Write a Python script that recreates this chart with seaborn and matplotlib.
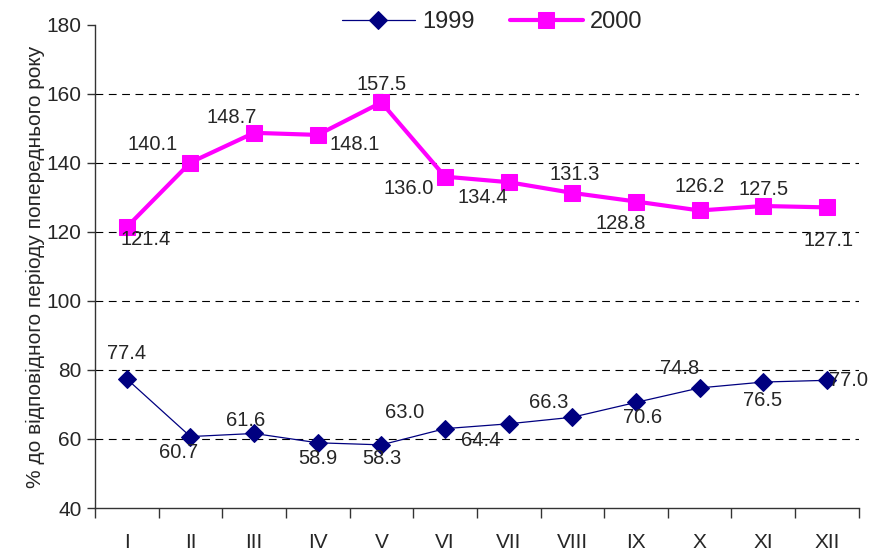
import pandas as pd
import matplotlib.pyplot as plt
import seaborn as sns

months = ['I', 'II', 'III', 'IV', 'V', 'VI', 'VII', 'VIII', 'IX', 'X', 'XI', 'XII']
y1999 = [77.4, 60.7, 61.6, 58.9, 58.3, 63.0, 64.4, 66.3, 70.6, 74.8, 76.5, 77.0]
y2000 = [121.4, 140.1, 148.7, 148.1, 157.5, 136.0, 134.4, 131.3, 128.8, 126.2, 127.5, 127.1]

# label offsets in pixels (dx, dy)
off1999 = [(0, 25), (-12, -16), (-8, 13), (0, -16), (0, -14), (-40, 16),
           (-28, -17), (-24, 15), (7, -15), (-20, 19), (-1, -18), (22, 0)]
off2000 = [(19, -12), (-38, 18), (-22, 15), (37, -10), (0, 18), (-36, -12),
           (-26, -15), (2, 18), (-15, -22), (0, 24), (0, 17), (2, -33)]

df = pd.DataFrame({'x': range(12), 'y1999': y1999, 'y2000': y2000})

sns.set_style('white')
plt.rcParams['font.family'] = ['Liberation Sans', 'DejaVu Sans']

fig = plt.figure(figsize=(8.71, 5.51), dpi=100)
ax = fig.add_axes([0.109, 0.078, 0.877, 0.877])

sns.lineplot(data=df, x='x', y='y1999', ax=ax, color='#000080', lw=0.9,
             marker='D', markersize=9, markeredgecolor='#000080', label='1999')
sns.lineplot(data=df, x='x', y='y2000', ax=ax, color='#FF00FF', lw=3,
             marker='s', markersize=11, markeredgecolor='#FF00FF', label='2000')

for i in range(12):
    ax.annotate(f'{y1999[i]:.1f}', (i, y1999[i]), xytext=off1999[i],
                textcoords='offset pixels', ha='center', va='center', fontsize=14.5)
    ax.annotate(f'{y2000[i]:.1f}', (i, y2000[i]), xytext=off2000[i],
                textcoords='offset pixels', ha='center', va='center', fontsize=14.5)

ax.set_xlim(-0.5, 11.5)
ax.set_ylim(40, 180)
ax.set_yticks(range(40, 181, 20))
for g in range(60, 161, 20):
    ax.axhline(g, color='black', lw=0.8, ls=(0, (7, 5)), zorder=0)

ax.set_xticks([i - 0.5 for i in range(13)])
ax.set_xticklabels([])
ax.set_xticks(range(12), minor=True)
ax.set_xticklabels(months, minor=True, fontsize=15)
ax.tick_params(axis='x', which='major', direction='out', length=7, width=1, color='#333333', bottom=True)
ax.tick_params(axis='x', which='minor', length=0, pad=18, bottom=True)
ax.tick_params(axis='y', direction='out', length=6, width=1, color='#333333', labelsize=15, left=True)

ax.set_xlabel('')
ax.set_ylabel('% до відповідного періоду попереднього року', fontsize=15, labelpad=1)
for s in ['top', 'right']:
    ax.spines[s].set_visible(False)
for s in ['left', 'bottom']:
    ax.spines[s].set_color('#333333')
    ax.spines[s].set_linewidth(1)

ax.legend_.remove()
h, l = ax.get_legend_handles_labels()
fig.legend(h, l, loc='center', bbox_to_anchor=(0.565, 0.96), ncol=2, frameon=False,
           fontsize=17, handlelength=3.1, handletextpad=0.3, columnspacing=1.5)

fig.savefig('out.png', dpi=100)
